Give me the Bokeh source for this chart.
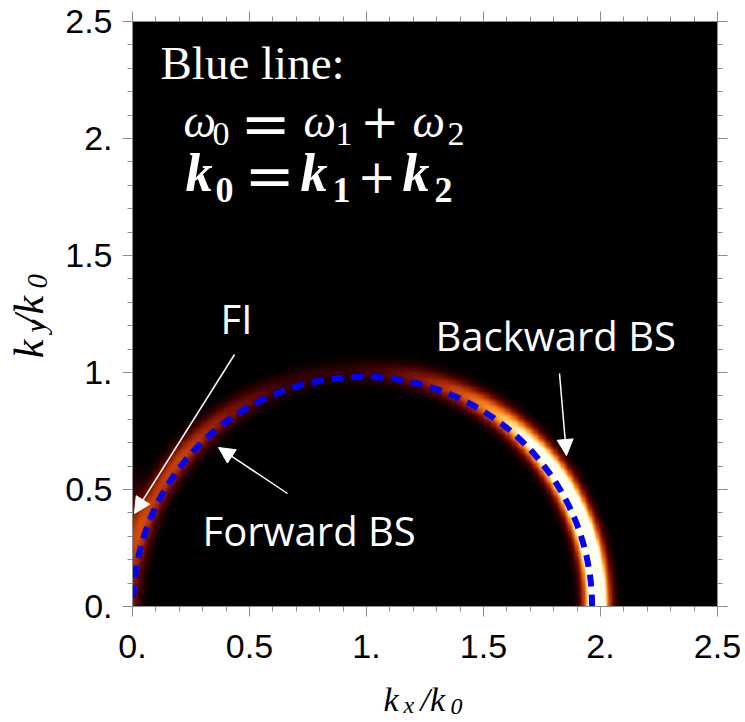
import numpy as np
from bokeh.plotting import figure
from bokeh.layouts import row, column
from bokeh.models import (LinearAxis, FixedTicker, CustomJSTickFormatter, Label,
                          Arrow, NormalHead, LinearColorMapper, Range1d)
from bokeh.embed import file_html
from bokeh.resources import INLINE

# ---------------- data ----------------
major_ticks = [0, 0.5, 1, 1.5, 2, 2.5]
minor_ticks = [0.1, 0.2, 0.3, 0.4, 0.6, 0.7, 0.8, 0.9, 1.1, 1.2, 1.3, 1.4,
               1.6, 1.7, 1.8, 1.9, 2.1, 2.2, 2.3, 2.4]

# blue dashed matching curve (semicircle)
blue_center_x = [0.983]
blue_center_y = [0.0]
blue_radius = [0.981]

# glow ring: peak intensity vs polar angle (deg) about the blue centre
ring_angle_deg = [0, 20, 35, 45, 55, 65, 75, 85, 95, 110, 125, 140, 155, 170, 180]
ring_peak = [1.7, 1.6, 1.35, 1.05, 0.75, 0.5, 0.3, 0.15, 0.09, 0.12, 0.28, 0.45, 0.42, 0.35, 0.3]
ring_radius_shift = 0.022
ring_sigma = 0.034

# FI glow near the left edge
fi_center = [-0.02, 0.38]
fi_sigma = [0.05, 0.11]
fi_peak = 0.2

# colour anchors for the heat map (value, r, g, b)
cmap_anchors = [(0.0, 0, 0, 0), (0.12, 60, 0, 0), (0.3, 140, 25, 0), (0.5, 215, 80, 10),
                (0.7, 255, 150, 40), (0.85, 255, 215, 120), (1.0, 255, 255, 240)]

# ---------------- heat map field ----------------
N = 500
xs = np.linspace(0, 2.5, N)
ys = np.linspace(0, 2.5, N)
X, Y = np.meshgrid(xs, ys)
R = np.hypot(X - blue_center_x[0], Y - blue_center_y[0])
TH = np.degrees(np.arctan2(Y - blue_center_y[0], X - blue_center_x[0]))
P = np.interp(TH, ring_angle_deg, ring_peak)
field = P * np.exp(-((R - (blue_radius[0] + ring_radius_shift)) ** 2) / (2 * ring_sigma ** 2))
field += fi_peak * np.exp(-((X - fi_center[0]) ** 2) / (2 * fi_sigma[0] ** 2)
                          - ((Y - fi_center[1]) ** 2) / (2 * fi_sigma[1] ** 2))

vals = np.linspace(0, 1, 256)
av = [a[0] for a in cmap_anchors]
rr = np.interp(vals, av, [a[1] for a in cmap_anchors])
gg = np.interp(vals, av, [a[2] for a in cmap_anchors])
bb = np.interp(vals, av, [a[3] for a in cmap_anchors])
palette = ["#%02x%02x%02x" % (int(r), int(g), int(b)) for r, g, b in zip(rr, gg, bb)]
mapper = LinearColorMapper(palette=palette, low=0, high=1)

# ---------------- layout geometry (page pixels) ----------------
LEFT_W = 56          # strip holding the rotated y title
MAIN_BOTTOM = 70     # border under the frame for tick labels
FRAME = 585
TOP = 21
MAIN_H = TOP + FRAME + MAIN_BOTTOM     # 676
PAGE_W, PAGE_H = 745, 722

# ---------------- main figure ----------------
p = figure(frame_width=FRAME, frame_height=FRAME,
           x_range=Range1d(0, 2.5), y_range=Range1d(0, 2.5),
           output_backend="svg", toolbar_location=None,
           min_border_left=132 - LEFT_W, min_border_right=28,
           min_border_top=TOP, min_border_bottom=MAIN_BOTTOM)
p.background_fill_color = "black"
p.border_fill_color = "white"
p.outline_line_color = None
p.grid.visible = False

p.image(image=[field], x=0, y=0, dw=2.5, dh=2.5, color_mapper=mapper)
p.arc(x=blue_center_x, y=blue_center_y, radius=blue_radius, start_angle=0, end_angle=np.pi,
      line_color="#0000ff", line_width=6, line_dash="12 8")

TICK_COL = "#8c8c8c"
fmt = CustomJSTickFormatter(code="""
    if (Math.abs(tick - Math.round(tick)) < 1e-9) { return tick.toFixed(0) + '.'; }
    return tick.toFixed(1);
""")


def style_axis(ax, labels=True, standoff=10):
    ax.ticker = FixedTicker(ticks=major_ticks, minor_ticks=minor_ticks)
    ax.major_tick_out = 10
    ax.major_tick_in = 0
    ax.minor_tick_out = 5
    ax.minor_tick_in = 0
    ax.major_tick_line_color = TICK_COL
    ax.minor_tick_line_color = TICK_COL
    ax.axis_line_color = TICK_COL
    if labels:
        ax.formatter = fmt
        ax.major_label_text_font = "Liberation Sans"
        ax.major_label_text_font_size = "34px"
        ax.major_label_text_color = "black"
        ax.major_label_standoff = standoff
    else:
        ax.formatter = CustomJSTickFormatter(code="return '';")
        ax.major_label_text_font_size = "1px"
        ax.major_label_standoff = 0


style_axis(p.xaxis[0], standoff=18)
style_axis(p.yaxis[0], standoff=10)
top = LinearAxis()
right = LinearAxis()
style_axis(top, labels=False)
style_axis(right, labels=False)
p.add_layout(top, "above")
p.add_layout(right, "right")

# strip figures for the axis titles (their data units are page pixels)
left_fig = figure(width=LEFT_W, height=MAIN_H, x_range=Range1d(0, LEFT_W),
                  y_range=Range1d(MAIN_H, 0), output_backend="svg", toolbar_location=None,
                  x_axis_location=None, y_axis_location=None, min_border=0)
bottom_fig = figure(width=PAGE_W, height=PAGE_H - MAIN_H, x_range=Range1d(0, PAGE_W),
                    y_range=Range1d(PAGE_H, MAIN_H), output_backend="svg",
                    toolbar_location=None, x_axis_location=None, y_axis_location=None,
                    min_border=0)
for f in (left_fig, bottom_fig):
    f.outline_line_color = None
    f.grid.visible = False
    f.background_fill_color = "white"
    f.border_fill_color = "white"

# pixel -> data helpers for annotation placement in the main frame
FX0, FY0, S = 132.0, 606.0, 234.0
BASE_FIX = 0.38   # baseline correction (fraction of font size)
ALONG_FIX = 0.74  # correction along rotated text (fraction of font size)


def dx(px):
    return (px - FX0) / S


def dy(py):
    return (FY0 - py) / S


def put(text, px, py, size, font="Liberation Serif", style="normal", color="white"):
    py = py - BASE_FIX * size
    p.add_layout(Label(x=dx(px), y=dy(py), text=text, text_font=font,
                       text_font_size=f"{size}px", text_font_style=style,
                       text_color=color, text_align="left", text_baseline="alphabetic"))


def put_px(fig, text, px, py, size, style="italic", angle=0.0):
    if angle == 0.0:
        py = py - BASE_FIX * size
    else:
        px = px - BASE_FIX * size
        py = py + ALONG_FIX * size
    fig.add_layout(Label(x=px, y=py, text=text, text_font="Liberation Serif",
                         text_font_size=f"{size}px", text_font_style=style,
                         text_color="black", text_align="left", text_baseline="alphabetic",
                         angle=angle))


# x title  k_x / k_0
put_px(bottom_fig, "k", 383, 712, 34)
put_px(bottom_fig, "x", 403, 714, 24)
put_px(bottom_fig, "/k", 420, 712, 34)
put_px(bottom_fig, "0", 450, 715, 24)

# y title  k_y / k_0 (rotated, reads upward)
A = np.pi / 2
put_px(left_fig, "k", 44, 358, 42, angle=A)
put_px(left_fig, "y", 47, 338, 29, angle=A)
put_px(left_fig, "/k", 44, 321, 42, angle=A)
put_px(left_fig, "0", 48, 287, 29, angle=A)

# equation block
put("Blue line:", 160, 80, 47)
put("ω", 183, 138, 46, style="italic")
put("0", 212, 146, 34)
put("=", 240, 145, 60, font="DejaVu Serif")
put("ω", 303, 138, 46, style="italic")
put("1", 335, 146, 34)
put("+", 360, 138, 46, font="DejaVu Serif")
put("ω", 412, 138, 46, style="italic")
put("2", 447, 146, 34)

put("k", 185, 193, 54, style="bold italic")
put("0", 215, 203, 36, style="bold")
put("=", 244, 197, 60, font="DejaVu Serif")
put("k", 300, 193, 54, style="bold italic")
put("1", 332, 203, 36, style="bold")
put("+", 357, 193, 46, font="DejaVu Serif")
put("k", 402, 193, 54, style="bold italic")
put("2", 434, 203, 36, style="bold")

# region labels
put("FI", 220, 333, 40, font="Open Sans")
put("Forward BS", 202, 545, 40, font="Open Sans")
put("Backward BS", 435, 350, 40, font="Open Sans")


def arrow(x0, y0, x1, y1):
    p.add_layout(Arrow(x_start=dx(x0), y_start=dy(y0), x_end=dx(x1), y_end=dy(y1),
                       line_color="white", line_width=1.5,
                       end=NormalHead(size=16, fill_color="white", line_color="white")))


arrow(234, 354, 134, 513)
arrow(287, 493, 218, 447)
arrow(559, 373, 566, 455)

layout = column(row(left_fig, p), bottom_fig)
open("out.html", "w").write(file_html(layout, INLINE))
